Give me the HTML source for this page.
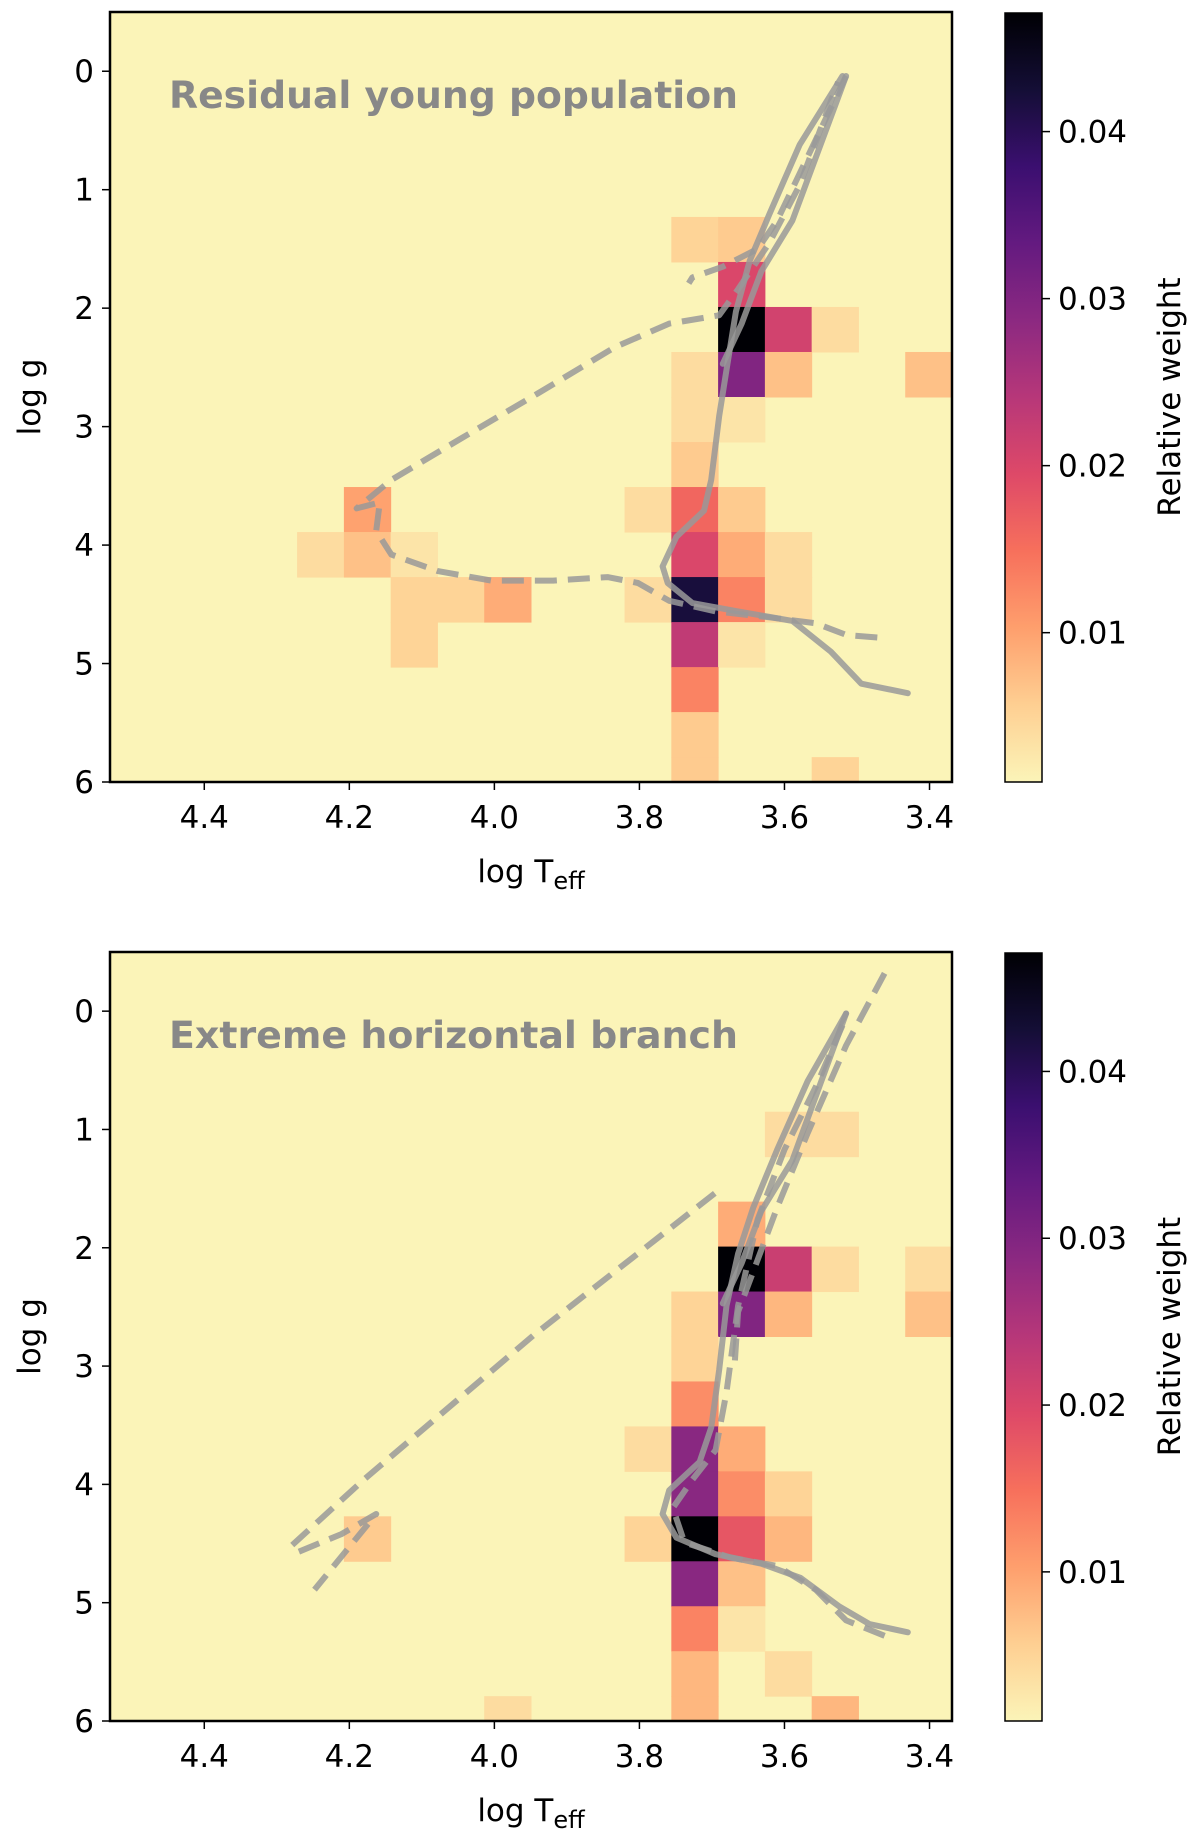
<!DOCTYPE html>
<html><head><meta charset="utf-8"><style>
html,body{margin:0;padding:0;background:#fff;}
svg{display:block;font-family:"DejaVu Sans","Liberation Sans",sans-serif;}
</style></head><body>
<svg id="fig" width="1200" height="1831" viewBox="0 0 1200 1831" xmlns="http://www.w3.org/2000/svg">
<defs>
<linearGradient id="cbgrad" x1="0" y1="1" x2="0" y2="0">
<stop offset="0" stop-color="#fbf4b8"/><stop offset="0.1" stop-color="#fecf92"/><stop offset="0.2" stop-color="#fe9f6d"/><stop offset="0.3" stop-color="#f7705c"/><stop offset="0.4" stop-color="#de4968"/><stop offset="0.5" stop-color="#b73779"/><stop offset="0.6" stop-color="#8c2981"/><stop offset="0.7" stop-color="#641a80"/><stop offset="0.8" stop-color="#3b0f70"/><stop offset="0.9" stop-color="#140e36"/><stop offset="1" stop-color="#000004"/>
</linearGradient>
</defs>
</svg>
<script>
// ---- data ----
const xTicks = [4.4, 4.2, 4.0, 3.8, 3.6, 3.4];
const xTickLabels = ["4.4","4.2","4.0","3.8","3.6","3.4"];
const yTicks = [0,1,2,3,4,5,6];
const cbTicks = [0.01,0.02,0.03,0.04];
const cbTickLabels = ["0.01","0.02","0.03","0.04"];
const panelTitles = ["Residual young population","Extreme horizontal branch"];
// cells: [column index, row index, weight]
const cellsTop = [
[12,5,0.005],[13,5,0.006],[13,6,0.020],[13,7,0.047],[14,7,0.021],[15,7,0.004],
[12,8,0.004],[13,8,0.030],[14,8,0.007],[17,8,0.007],[12,9,0.004],[13,9,0.003],
[12,10,0.006],[5,11,0.010],[11,11,0.004],[12,11,0.016],[13,11,0.006],
[4,12,0.004],[5,12,0.007],[6,12,0.003],[12,12,0.020],[13,12,0.009],[14,12,0.004],
[6,13,0.005],[7,13,0.005],[8,13,0.009],[11,13,0.004],[12,13,0.042],[13,13,0.013],[14,13,0.004],
[6,14,0.005],[12,14,0.023],[13,14,0.003],[12,15,0.013],[12,16,0.006],[12,17,0.006],[15,17,0.005]
];
const cellsBottom = [
[14,4,0.004],[15,4,0.004],[13,6,0.009],[13,7,0.047],[14,7,0.022],[15,7,0.004],[17,7,0.004],
[12,8,0.005],[13,8,0.030],[14,8,0.008],[17,8,0.007],[12,9,0.005],[12,10,0.012],
[11,11,0.004],[12,11,0.029],[13,11,0.009],[12,12,0.029],[13,12,0.012],[14,12,0.005],
[5,13,0.006],[11,13,0.005],[12,13,0.047],[13,13,0.018],[14,13,0.008],
[12,14,0.029],[13,14,0.007],[12,15,0.013],[13,15,0.003],[12,16,0.008],[14,16,0.004],
[8,17,0.004],[12,17,0.008],[15,17,0.008]
];
// tracks: logTeff, log g
const topSolid1T=[3.430,3.494,3.536,3.589,3.664,3.727,3.761,3.768,3.749,3.711,3.701,3.690,3.680,3.667,3.648,3.621,3.579,3.520];
const topSolid1G=[5.25,5.17,4.90,4.64,4.56,4.49,4.32,4.18,3.93,3.71,3.45,2.91,2.52,2.03,1.60,1.21,0.62,0.04];
const topSolid2T=[3.685,3.659,3.632,3.589,3.515];
const topSolid2G=[2.47,2.13,1.69,1.26,0.04];
const topDash1T=[3.472,3.514,3.557,3.621,3.695,3.759,3.802,3.844,3.919,4.004,4.078,4.142,4.163,4.158,4.190,4.142,4.046,3.940,3.834,3.759,3.690,3.664,3.621,3.579,3.526];
const topDash1G=[4.78,4.76,4.66,4.61,4.56,4.47,4.32,4.27,4.30,4.30,4.22,4.08,3.88,3.64,3.69,3.45,3.10,2.72,2.33,2.13,2.06,1.84,1.45,0.96,0.09];
const topDash2T=[3.515,3.557,3.610,3.637,3.685,3.727,3.732];
const topDash2G=[0.04,0.58,1.26,1.50,1.65,1.74,1.79];
const botSolid1T=[3.430,3.483,3.525,3.578,3.632,3.695,3.749,3.768,3.759,3.717,3.701,3.690,3.680,3.664,3.643,3.610,3.568,3.515];
const botSolid1G=[5.25,5.18,5.03,4.79,4.67,4.59,4.45,4.25,4.05,3.81,3.52,3.03,2.49,2.05,1.66,1.17,0.59,0.02];
const botSolid2T=[3.685,3.659,3.632,3.589,3.515];
const botSolid2G=[2.47,2.13,1.69,1.26,0.02];
const botDash1T=[3.462,3.515,3.557,3.610,3.674,3.738,3.754,3.727,3.695,3.680,3.664,3.637,3.600,3.557,3.515];
const botDash1G=[5.28,5.15,4.89,4.69,4.62,4.49,4.20,3.96,3.71,3.22,2.49,1.76,1.17,0.64,0.05];
const botDash2T=[3.462,3.515,3.568,3.610,3.643,3.664,3.669];
const botDash2G=[-0.32,0.29,1.03,1.66,2.20,2.54,3.02];
const botDash3T=[3.696,3.946,4.180,4.280,4.270,4.211,4.163,4.248];
const botDash3G=[1.54,2.74,3.96,4.52,4.57,4.42,4.25,4.89];

// ---- rendering ----
const NS="http://www.w3.org/2000/svg";
const svg=document.getElementById('fig');
const XMIN=4.53, XMAX=3.369, GMIN=-0.5, GMAX=6;
const VMIN=0.00106, VMAX=0.0471;
const COLW=0.0645, ROW0=-0.67, ROWH=0.38;
const L=110, R=952;
const FS=31;
const magma=["#000004","#140e36","#3b0f70","#641a80","#8c2981","#b73779","#de4968","#f7705c","#fe9f6d","#fecf92","#fbf4b8"];
function hex(h){return [1,3,5].map(i=>parseInt(h.substr(i,2),16));}
function cmap(v){let t=(v-VMIN)/(VMAX-VMIN);t=Math.max(0,Math.min(1,t));let s=(1-t)*10;let i=Math.min(9,Math.floor(s));let f=s-i;const a=hex(magma[i]),b=hex(magma[i+1]);return 'rgb('+a.map((c,k)=>Math.round(c+(b[k]-c)*f)).join(',')+')';}
function el(tag,attrs,parent){const e=document.createElementNS(NS,tag);for(const k in attrs)e.setAttribute(k,attrs[k]);(parent||svg).appendChild(e);return e;}

function panel(top,bot,cells,solids,dashes,title,idx){
  const g=el('g',{});
  
  
  const X=v=>L+(XMIN-v)/(XMIN-XMAX)*(R-L);
  const Y=v=>top+(v-GMIN)/(GMAX-GMIN)*(bot-top);
  const bg=el('rect',{x:L,y:top,width:R-L,height:bot-top,fill:cmap(0)},g);
  
  
  cells.forEach(c=>{
    const x0=X(XMIN-COLW*c[0]), x1=X(XMIN-COLW*(c[0]+1));
    const g0=Math.max(GMIN,ROW0+ROWH*c[1]), g1=Math.min(GMAX,ROW0+ROWH*(c[1]+1));
    const r=el('rect',{x:x0,y:Y(g0),width:x1-x0+0.5,height:Y(g1)-Y(g0)+0.5,fill:cmap(c[2])},g);
    
    
  });
  const pts=(T,G)=>T.map((t,i)=>X(t).toFixed(1)+','+Y(G[i]).toFixed(1)).join(' ');
  solids.forEach(s=>{
    const p=el('polyline',{points:pts(s[0],s[1]),fill:'none',stroke:'#999999','stroke-opacity':0.85,'stroke-width':6,'stroke-linejoin':'round','stroke-linecap':'round'},g);
    
    
  });
  dashes.forEach(s=>{
    const p=el('polyline',{points:pts(s[0],s[1]),fill:'none',stroke:'#999999','stroke-opacity':0.85,'stroke-width':6,'stroke-dasharray':'22,11','stroke-linejoin':'round'},g);
    
    
  });
  const tt=el('text',{x:169,y:top+96,'font-size':37,'font-weight':'bold',fill:'#888888',textLength:569,lengthAdjust:'spacingAndGlyphs'},g);
  tt.textContent=title;
  
  
  const fr=el('rect',{x:L,y:top,width:R-L,height:bot-top,fill:'none',stroke:'#000','stroke-width':2.5},g);
  
  
  xTicks.forEach((v,i)=>{
    el('line',{x1:X(v),x2:X(v),y1:bot,y2:bot+8,stroke:'#000','stroke-width':1.5},g);
    const t=el('text',{x:X(v),y:bot+46,'font-size':FS,'text-anchor':'middle',fill:'#000'},g);
    t.textContent=xTickLabels[i];
    
    
  });
  yTicks.forEach(v=>{
    el('line',{x1:L-8,x2:L,y1:Y(v),y2:Y(v),stroke:'#000','stroke-width':1.5},g);
    const t=el('text',{x:L-16,y:Y(v)+11,'font-size':FS,'text-anchor':'end',fill:'#000'},g);
    t.textContent=String(v);
    
    
  });
  const xl=el('text',{x:531,y:bot+100,'font-size':FS,'text-anchor':'middle',fill:'#000'},g);
  xl.innerHTML='log T<tspan font-size="24" dy="7">eff</tspan>';
  
  
  const yc=(top+bot)/2;
  const yl=el('text',{x:40,y:yc,'font-size':FS,'text-anchor':'middle',fill:'#000',transform:'rotate(-90 40 '+yc+')'},g);
  yl.textContent='log g';
  
  
  // colorbar
  const CL=1005, CR=1042, ct=top+1, cb=bot;
  const cbr=el('rect',{x:CL,y:ct,width:CR-CL,height:cb-ct,fill:'url(#cbgrad)',stroke:'#000','stroke-width':1.5},g);
  
  
  const CY=v=>cb-(v-VMIN)/(VMAX-VMIN)*(cb-ct);
  cbTicks.forEach((v,i)=>{
    el('line',{x1:CR,x2:CR+8,y1:CY(v),y2:CY(v),stroke:'#000','stroke-width':1.5},g);
    const t=el('text',{x:CR+16,y:CY(v)+11,'font-size':FS,fill:'#000'},g);
    t.textContent=cbTickLabels[i];
    
    
  });
  const cl=el('text',{x:1180,y:yc,'font-size':FS,'text-anchor':'middle',fill:'#000',transform:'rotate(-90 1180 '+yc+')'},g);
  cl.textContent='Relative weight';
  
  
}
panel(12,782,cellsTop,[[topSolid1T,topSolid1G],[topSolid2T,topSolid2G]],[[topDash1T,topDash1G],[topDash2T,topDash2G]],panelTitles[0],0);
panel(952,1721,cellsBottom,[[botSolid1T,botSolid1G],[botSolid2T,botSolid2G]],[[botDash1T,botDash1G],[botDash2T,botDash2G],[botDash3T,botDash3G]],panelTitles[1],1);
</script>
</body></html>
